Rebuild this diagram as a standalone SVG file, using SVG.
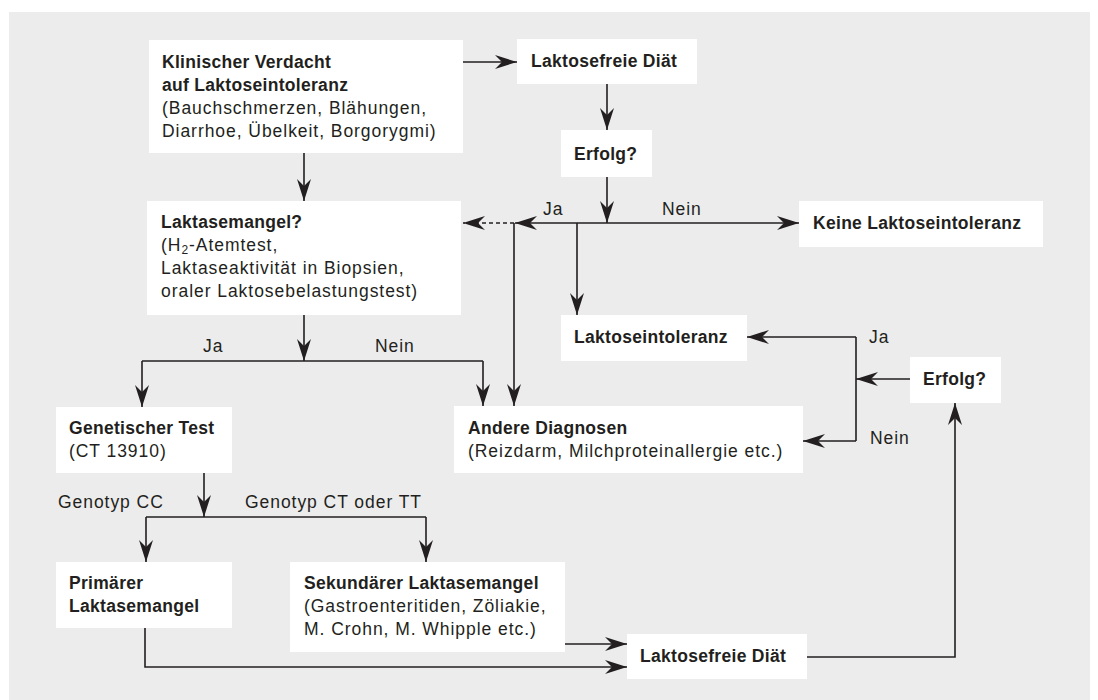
<svg xmlns="http://www.w3.org/2000/svg" width="1098" height="700" viewBox="0 0 1098 700">
<defs>
<style>
text{font-family:"Liberation Sans",Arial,sans-serif;font-size:17.5px;fill:#231f20;letter-spacing:0.95px}
.b{font-weight:bold;letter-spacing:0.3px}
.box{fill:#fff}
.ln{fill:none;stroke:#231f20;stroke-width:1.6}
.a{marker-end:url(#ah)}
.d{stroke-dasharray:4 3}
</style>
<marker id="ah" viewBox="-22 -7 22 14" refX="0" refY="0" markerWidth="22" markerHeight="14" markerUnits="userSpaceOnUse" orient="auto">
<path d="M0,0 L-22,-7 L-15,0 L-22,7 Z" fill="#231f20"/>
</marker>
</defs>
<rect x="9" y="12" width="1081" height="688" fill="#ececec"/>

<g id="connectors">
<path class="ln a" d="M463,62 H517"/>
<path class="ln a" d="M607,84 V130"/>
<path class="ln a" d="M607,177 V223"/>
<path class="ln a" d="M607,223 H515"/>
<path class="ln a" d="M607,223 H799"/>
<path class="ln d a" d="M514,223 H463"/>
<path class="ln a" d="M514,223 V406"/>
<path class="ln a" d="M577,223 V315"/>
<path class="ln a" d="M304,153 V201"/>
<path class="ln a" d="M304,315 V361"/>
<path class="ln a" d="M142,361 V407"/>
<path class="ln" d="M142,361 H483"/>
<path class="ln a" d="M483,361 V406"/>
<path class="ln a" d="M204,473 V517"/>
<path class="ln" d="M146,517 H426"/>
<path class="ln a" d="M146,517 V562"/>
<path class="ln a" d="M426,517 V562"/>
<path class="ln a" d="M565,644 H627"/>
<path class="ln a" d="M145,628 V667 H627"/>
<path class="ln a" d="M807,657 H955 V403"/>
<path class="ln a" d="M910,379 H856"/>
<path class="ln a" d="M856,337 H747"/>
<path class="ln" d="M856,337 V441"/>
<path class="ln a" d="M856,441 H803"/>
<text x="543" y="215">Ja</text>
<text x="662" y="215">Nein</text>
<text x="203" y="352">Ja</text>
<text x="375" y="352">Nein</text>
<text x="58" y="508">Genotyp CC</text>
<text x="245" y="508">Genotyp CT oder TT</text>
<text x="869" y="343">Ja</text>
<text x="870" y="444">Nein</text>
</g>

<g id="verdacht">
<rect class="box" x="149" y="40" width="314" height="113"/>
<text class="b" x="162" y="67.5">Klinischer Verdacht</text>
<text class="b" x="162" y="90.5">auf Laktoseintoleranz</text>
<text x="162" y="113.5">(Bauchschmerzen, Blähungen,</text>
<text x="162" y="136.5">Diarrhoe, Übelkeit, Borgorygmi)</text>
</g>

<g id="diaet1">
<rect class="box" x="517" y="39" width="180" height="45"/>
<text class="b" x="531" y="67">Laktosefreie Diät</text>
</g>

<g id="erfolg1">
<rect class="box" x="561" y="130" width="91" height="47"/>
<text class="b" x="574" y="160">Erfolg?</text>
</g>

<g id="keine">
<rect class="box" x="799" y="201" width="244" height="46"/>
<text class="b" x="813" y="229">Keine Laktoseintoleranz</text>
</g>

<g id="laktasemangel">
<rect class="box" x="147" y="201" width="314" height="114"/>
<text class="b" x="161" y="228">Laktasemangel?</text>
<text x="161" y="251">(H<tspan font-size="12" dy="3">2</tspan><tspan dy="-3">-Atemtest,</tspan></text>
<text x="161" y="274">Laktaseaktivität in Biopsien,</text>
<text x="161" y="297">oraler Laktosebelastungstest)</text>
</g>

<g id="laktoseintoleranz">
<rect class="box" x="561" y="315" width="186" height="46"/>
<text class="b" x="574" y="343">Laktoseintoleranz</text>
</g>

<g id="erfolg2">
<rect class="box" x="910" y="357" width="91" height="46"/>
<text class="b" x="923" y="385">Erfolg?</text>
</g>

<g id="genetisch">
<rect class="box" x="56" y="407" width="176" height="66"/>
<text class="b" x="69" y="434">Genetischer Test</text>
<text x="69" y="457">(CT 13910)</text>
</g>

<g id="andere">
<rect class="box" x="454" y="406" width="349" height="67"/>
<text class="b" x="468" y="434">Andere Diagnosen</text>
<text x="468" y="457">(Reizdarm, Milchproteinallergie etc.)</text>
</g>

<g id="primaer">
<rect class="box" x="56" y="562" width="176" height="66"/>
<text class="b" x="69" y="589">Primärer</text>
<text class="b" x="69" y="612">Laktasemangel</text>
</g>

<g id="sekundaer">
<rect class="box" x="290" y="562" width="275" height="90"/>
<text class="b" x="304" y="589">Sekundärer Laktasemangel</text>
<text x="304" y="612">(Gastroenteritiden, Zöliakie,</text>
<text x="304" y="635">M. Crohn, M. Whipple etc.)</text>
</g>

<g id="diaet2">
<rect class="box" x="627" y="634" width="180" height="45"/>
<text class="b" x="640" y="662">Laktosefreie Diät</text>
</g>
</svg>
